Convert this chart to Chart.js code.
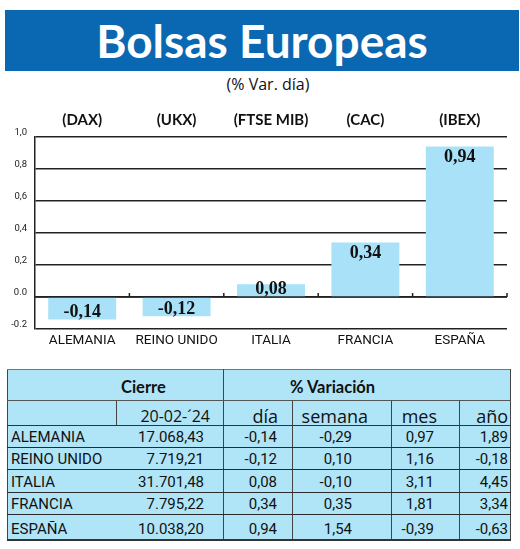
<!DOCTYPE html>
<html><head><meta charset="utf-8">
<script src="https://cdn.jsdelivr.net/npm/chart.js@4/dist/chart.umd.min.js"></script>
<style>
html,body{margin:0;padding:0;background:#fff;}
body{width:520px;height:549px;position:relative;overflow:hidden;color:#111;}
#banner{position:absolute;left:5px;top:10px;width:514px;height:61px;background:#0a67b1;color:#fff;font:bold 46px Lato,sans-serif;text-align:center;line-height:61px;white-space:nowrap;}
#sub{position:absolute;left:0;top:73px;width:536px;text-align:center;font:16px/22px 'Open Sans',sans-serif;color:#111;}
#chartbox{position:absolute;left:0;top:100px;width:520px;height:255px;}
#tbl{position:absolute;left:7px;top:369px;width:503px;border-collapse:collapse;table-layout:fixed;background:#b0e5f8;
 border-top:1px solid #777;border-left:1.5px solid #444;border-right:1.5px solid #444;border-bottom:2px solid #333;}
#tbl td{padding:0;overflow:visible;white-space:nowrap;}
#tbl tr.h1 td{height:26px;vertical-align:bottom;font:bold 16.5px/17px Lato,sans-serif;padding-bottom:4px;border-bottom:1px solid #555;text-align:left;}
#tbl tr.h2 td{height:24px;vertical-align:bottom;font:18px/18px 'Open Sans',sans-serif;text-align:right;border-bottom:1.5px solid #333;}
#tbl tr.h2 td.dt{font-size:16px;}
#tbl tr.d td{vertical-align:bottom;font:15px/17px Roboto,sans-serif;text-align:right;padding-bottom:1px;border-bottom:1.5px solid #2b2b2b;}
#tbl tr.d td.n{text-align:left;padding-left:3px;}
</style>
</head><body>
<div id="banner">Bolsas Europeas</div>
<div id="sub">(% Var. día)</div>
<div id="chartbox"><canvas id="c"></canvas></div>
<table id="tbl">
<colgroup><col style="width:109px"><col style="width:107px"><col style="width:69px"><col style="width:99px"><col style="width:68px"><col style="width:51px"></colgroup>
<tbody id="tb"></tbody>
</table>
<script>
// ---- data ----
const categories = ['ALEMANIA','REINO UNIDO','ITALIA','FRANCIA','ESPAÑA'];
const tickers = ['(DAX)','(UKX)','(FTSE MIB)','(CAC)','(IBEX)'];
const dayChange = [-0.14,-0.12,0.08,0.34,0.94];
const yTickLabels = ['-0.2','0.0','0,2','0,4','0,6','0,8','1,0'];
const closeDate = '20-02-´24';
const closeValues = ['17.068,43','7.719,21','31.701,48','7.795,22','10.038,20'];
const weekChange = [-0.29,0.10,-0.10,0.35,1.54];
const monthChange = [0.97,1.16,3.11,1.81,-0.39];
const yearChange = [1.89,-0.18,4.45,3.34,-0.63];
const periodHeaders = ['día','semana','mes','año'];

const fmt = v => v.toFixed(2).replace('.',',');

// ---- table ----
const tb = document.getElementById('tb');
const rowHeights = [22,22,23,22,25];
let html = '<tr class="h1"><td colspan="2" style="padding-left:113px;border-right:1px solid #444">Cierre</td>'+
 '<td colspan="4" style="padding-left:66px">% Variación</td></tr>';
const h2pad = [13,14,23,22,2];
html += '<tr class="h2"><td style="border-right:1px solid #444"></td>'+
 '<td class="dt" style="padding-right:'+h2pad[0]+'px;border-right:1px solid #444">'+closeDate+'</td>';
periodHeaders.forEach((h,i)=>{
  html += '<td style="padding-right:'+h2pad[i+1]+'px;'+(i<3?'border-right:1px solid #444':'')+'">'+h+'</td>';
});
html += '</tr>';
const dpad = [19,15,39,25,2];
categories.forEach((c,i)=>{
  const vals = [closeValues[i], fmt(dayChange[i]), fmt(weekChange[i]), fmt(monthChange[i]), fmt(yearChange[i])];
  html += '<tr class="d" style="height:'+rowHeights[i]+'px"><td class="n">'+c+'</td>';
  vals.forEach((v,j)=>{
    html += '<td style="padding-right:'+dpad[j]+'px;'+(j<4?'border-right:1px solid #444':'')+'">'+v+'</td>';
  });
  html += '</tr>';
});
tb.innerHTML = html;

// ---- chart ----
const zeroLine = {
  id:'zeroLine',
  afterDatasetsDraw(chart){
    const {ctx, chartArea:a, scales:{x,y}} = chart;
    const y0 = y.getPixelForValue(0);
    const step = x.getPixelForValue(1) - x.getPixelForValue(0);
    ctx.save();
    ctx.strokeStyle = '#222'; ctx.lineWidth = 1.5;
    ctx.beginPath();
    ctx.moveTo(a.left, y0); ctx.lineTo(a.right, y0);
    for (let i=0;i<categories.length;i++){
      const bx = x.getPixelForValue(i) + step/2;
      ctx.moveTo(bx, y0); ctx.lineTo(bx, y0-4);
    }
    ctx.stroke();
    // value labels
    const meta = chart.getDatasetMeta(0);
    ctx.fillStyle = '#111';
    ctx.font = 'bold 18px "Liberation Serif", serif';
    ctx.textAlign = 'center';
    ctx.textBaseline = 'alphabetic';
    meta.data.forEach((bar,i)=>{
      const v = dayChange[i];
      let by;
      if (v >= 0) by = Math.min(bar.y + 15, y0 - 3);
      else by = Math.max(bar.y - 2, y0 + 15);
      ctx.fillText(fmt(v), bar.x, by);
    });
    ctx.restore();
  }
};

new Chart(document.getElementById('c'), {
  type:'bar',
  data:{
    labels: categories,
    datasets:[{
      data: dayChange,
      backgroundColor:'#a9e2f8',
      borderWidth:0,
      barPercentage:0.72,
      categoryPercentage:1.0
    }]
  },
  options:{
    responsive:true,
    maintainAspectRatio:false,
    animation:false,
    layout:{padding:{left:0,right:13,top:0,bottom:0}},
    plugins:{legend:{display:false},tooltip:{enabled:false}},
    scales:{
      x:{
        type:'category', position:'bottom', offset:true,
        grid:{display:false, drawTicks:false}, border:{display:false},
        ticks:{font:{family:'Roboto, sans-serif',size:13.5},color:'#111',padding:4,maxRotation:0,autoSkip:false},
        afterFit(s){ s.height = 26; }
      },
      x2:{
        type:'category', position:'top', offset:true, labels: tickers,
        grid:{display:false, drawTicks:false}, border:{display:false},
        ticks:{font:{family:'Lato, sans-serif',size:15,weight:'bold'},color:'#111',padding:8,maxRotation:0,autoSkip:false},
        afterFit(s){ s.height = 37; }
      },
      y:{
        min:-0.2, max:1.0,
        ticks:{stepSize:0.2, callback:(v,i)=>yTickLabels[i],
          font:{family:'Roboto, sans-serif',size:9.5},
          color:'#222', padding:8, labelOffset:-4},
        grid:{color:'#222', lineWidth:1.5, drawTicks:false},
        border:{display:true, color:'#222', width:1.5},
        afterFit(s){ s.width = 35; }
      }
    }
  },
  plugins:[zeroLine]
});
</script>
</body></html>
